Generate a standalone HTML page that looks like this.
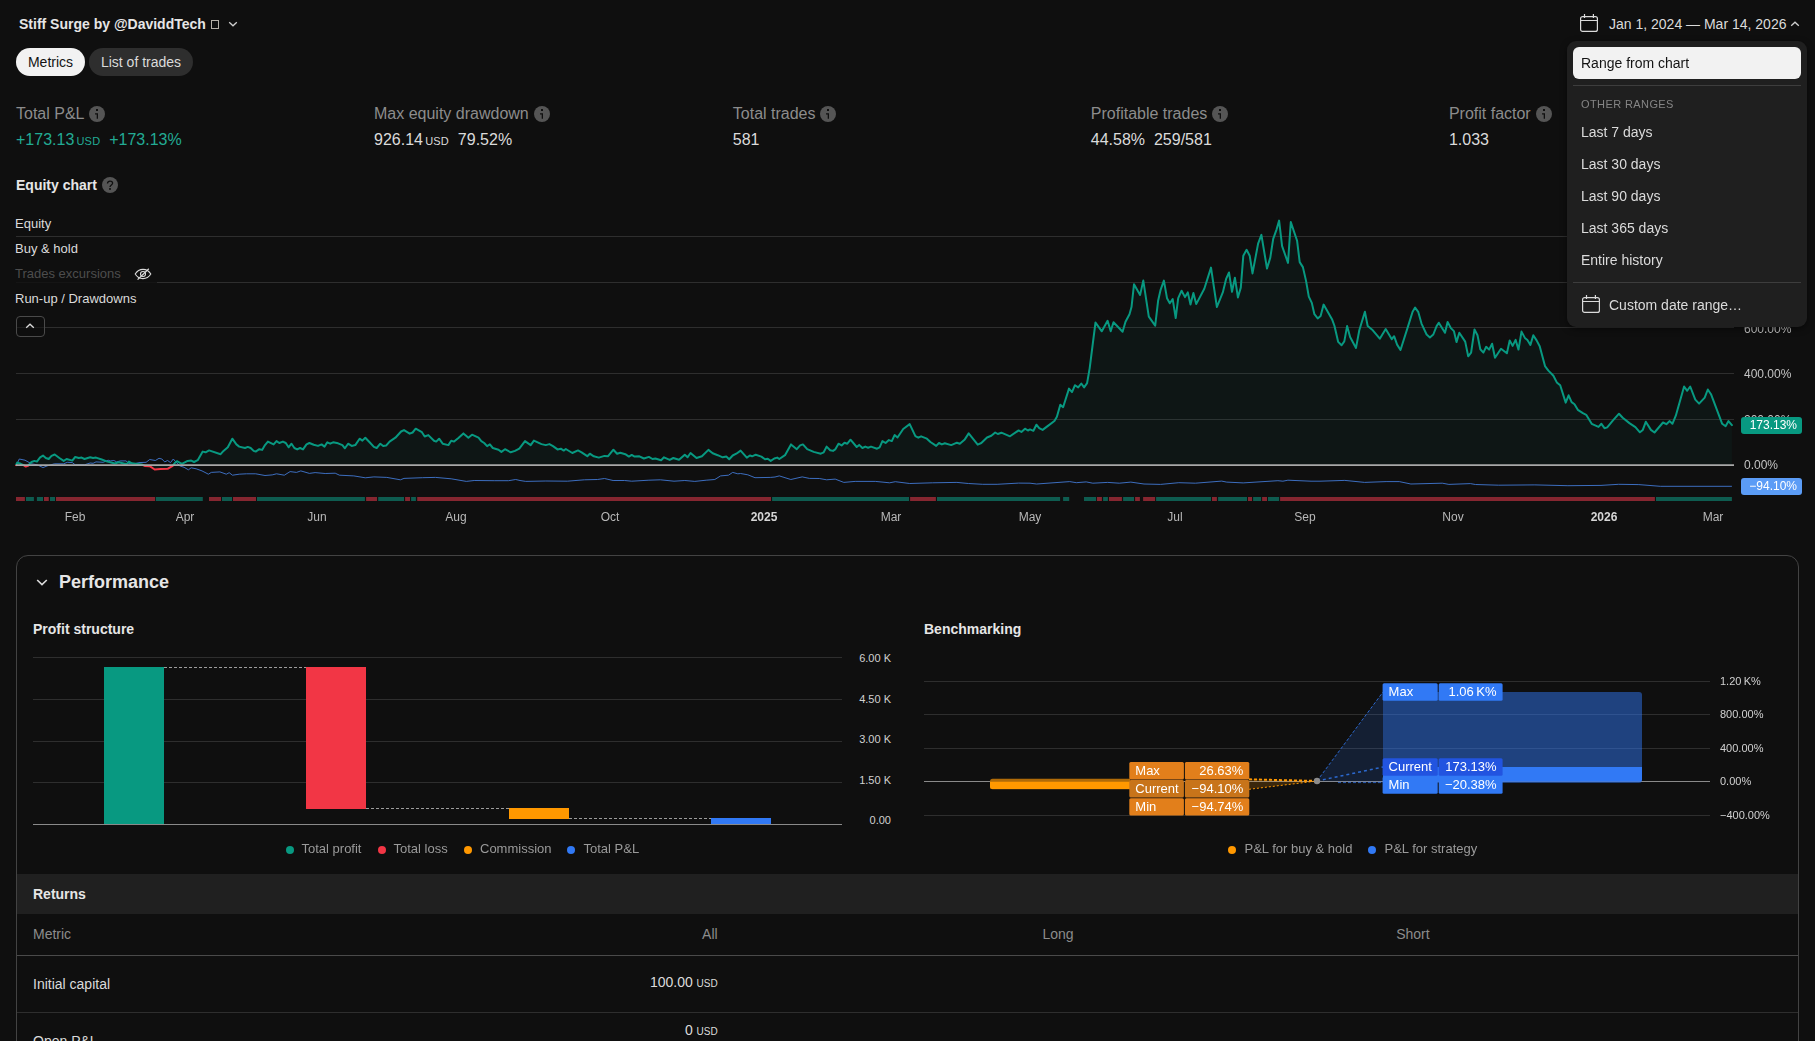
<!DOCTYPE html>
<html lang="en">
<head>
<meta charset="utf-8">
<title>Strategy report</title>
<style>
*{box-sizing:border-box;margin:0;padding:0}
html,body{width:1815px;height:1041px;overflow:hidden;background:#0f0f0f}
body{font-family:"Liberation Sans",sans-serif;color:#dbdbdb;position:relative;font-size:14px}
.abs{position:absolute;white-space:nowrap}
.title{left:19px;top:16px;font-size:14px;font-weight:700;color:#e6e6e6;line-height:17px}
.tofu{left:211px;top:20px;width:8px;height:9px;border:1px solid #b5b0a8}
.pill{top:48px;height:28px;border-radius:14px;font-size:14px;line-height:28px;text-align:center}
.pill.on{left:16px;width:69px;background:#f2f2f2;color:#131313}
.pill.off{left:89px;width:104px;background:#2e2e2e;color:#dbdbdb}
.mlabel{top:104px;font-size:16px;line-height:19px;color:#8c8c8c}
.mval{top:130px;font-size:16px;line-height:19px;color:#dbdbdb}
.mval small{font-size:11px;letter-spacing:.2px;margin-left:2.2px}
.usd{font-size:10px;margin-left:3.7px}
.green{color:#22ab94}
.info{position:absolute;width:16px;height:16px}
.h14{font-size:14px;font-weight:700;color:#e6e6e6;line-height:17px}
.leg{left:15px;font-size:13px;line-height:16px;color:#dbdbdb}
.xl{will-change:transform;top:510px;font-size:12px;line-height:14px;color:#b8b8b8;transform:translateX(-50%)}
.xl.b{font-weight:700;color:#d6d6d6}
.yl{will-change:transform;left:1744px;font-size:12px;line-height:14px;color:#c4c4c4}
.tag{will-change:transform;left:1741px;width:61px;height:17px;border-radius:3px;font-size:12px;line-height:17px;color:#fff;text-align:right;padding-right:5px}
.dd{left:1567px;top:41px;width:240px;height:286px;background:#1f1f1f;border-radius:9px;box-shadow:0 2px 6px rgba(0,0,0,.5)}
.dd .sel{left:6px;top:6px;width:228px;height:32px;border-radius:6px;background:#f2f2f2;color:#131313;font-size:14px;line-height:32px;padding-left:8px}
.dd .sep{left:6px;width:228px;height:1px;background:#3d3d3d}
.dd .cap{left:14px;top:57px;font-size:11px;line-height:13px;letter-spacing:.4px;color:#858585}
.dd .it{left:14px;font-size:14px;line-height:17px;color:#dbdbdb}
.panel{left:16px;top:555px;width:1783px;height:520px;border:1px solid #434343;border-radius:12px}
.lg{font-size:13px;line-height:16px;color:#9a9a9a}
.dot{position:absolute;width:8px;height:8px;border-radius:50%}
.ret{left:17px;top:874px;width:1781px;height:40px;background:#202020}
.th{top:926px;font-size:14px;line-height:17px;color:#8c8c8c}
.hr{left:17px;width:1781px;height:1px}
.td{font-size:14px;line-height:17px;color:#dbdbdb}
</style>
</head>
<body>

<div class="abs title">Stiff Surge by @DaviddTech</div>
<div class="abs tofu"></div>
<svg class="abs" style="left:228px;top:20px" width="10" height="8" viewBox="0 0 10 8"><path d="M1.2 2.2 L5 5.8 L8.8 2.2" fill="none" stroke="#cfcfcf" stroke-width="1.3"/></svg>
<div class="abs pill on">Metrics</div>
<div class="abs pill off">List of trades</div>

<div class="abs mlabel" style="left:16px">Total P&amp;L</div>
<div class="abs mval green" style="left:16px">+173.13<small>USD</small>&nbsp; +173.13%</div>
<div class="abs mlabel" style="left:374px">Max equity drawdown</div>
<div class="abs mval" style="left:374px">926.14<small>USD</small>&nbsp; 79.52%</div>
<div class="abs mlabel" style="left:732.8px">Total trades</div>
<div class="abs mval" style="left:732.8px">581</div>
<div class="abs mlabel" style="left:1090.8px">Profitable trades</div>
<div class="abs mval" style="left:1090.8px">44.58%&nbsp; 259/581</div>
<div class="abs mlabel" style="left:1448.9px">Profit factor</div>
<div class="abs mval" style="left:1448.9px">1.033</div>

<div class="abs h14" style="left:16px;top:177px">Equity chart</div>

<svg class="info" style="left:89px;top:106px" viewBox="0 0 16 16"><circle cx="8" cy="8" r="8" fill="#555"/><rect x="7" y="3" width="2" height="2" rx=".3" fill="#0f0f0f"/><path d="M6 7.200H9V12.800H7.700V8.400H6Z" fill="#0f0f0f"/></svg>
<svg class="info" style="left:534px;top:106px" viewBox="0 0 16 16"><circle cx="8" cy="8" r="8" fill="#555"/><rect x="7" y="3" width="2" height="2" rx=".3" fill="#0f0f0f"/><path d="M6 7.200H9V12.800H7.700V8.400H6Z" fill="#0f0f0f"/></svg>
<svg class="info" style="left:820px;top:106px" viewBox="0 0 16 16"><circle cx="8" cy="8" r="8" fill="#555"/><rect x="7" y="3" width="2" height="2" rx=".3" fill="#0f0f0f"/><path d="M6 7.200H9V12.800H7.700V8.400H6Z" fill="#0f0f0f"/></svg>
<svg class="info" style="left:1212px;top:106px" viewBox="0 0 16 16"><circle cx="8" cy="8" r="8" fill="#555"/><rect x="7" y="3" width="2" height="2" rx=".3" fill="#0f0f0f"/><path d="M6 7.200H9V12.800H7.700V8.400H6Z" fill="#0f0f0f"/></svg>
<svg class="info" style="left:1536px;top:106px" viewBox="0 0 16 16"><circle cx="8" cy="8" r="8" fill="#555"/><rect x="7" y="3" width="2" height="2" rx=".3" fill="#0f0f0f"/><path d="M6 7.200H9V12.800H7.700V8.400H6Z" fill="#0f0f0f"/></svg>
<svg class="info" style="left:102px;top:177px" viewBox="0 0 16 16"><circle cx="8" cy="8" r="8" fill="#555"/><path d="M5.500 6.400C5.500 5 6.600 4.200 8 4.200S10.600 5 10.600 6.300C10.600 7.900 8 8.100 8 10" fill="none" stroke="#0f0f0f" stroke-width="1.300"/><rect x="7.100" y="11.100" width="1.800" height="1.700" fill="#0f0f0f"/></svg>
<svg class="abs" style="left:0;top:200px" width="1815" height="320" viewBox="0 200 1815 320">
<line x1="16" x2="1734" y1="236.5" y2="236.5" stroke="#2e2e2e" stroke-width="1"/>
<line x1="16" x2="1734" y1="282.5" y2="282.5" stroke="#2e2e2e" stroke-width="1"/>
<line x1="16" x2="1734" y1="327.5" y2="327.5" stroke="#2e2e2e" stroke-width="1"/>
<line x1="16" x2="1734" y1="373.5" y2="373.5" stroke="#2e2e2e" stroke-width="1"/>
<line x1="16" x2="1734" y1="419.5" y2="419.5" stroke="#2e2e2e" stroke-width="1"/>
<path d="M16,465.0 L16.0,465.2 L17.2,462.6 L20.7,463.8 L23.6,465.2 L25.8,466.6 L28.3,465.5 L31.5,462.0 L34.4,460.9 L36.9,461.6 L40.1,457.3 L43.0,455.6 L45.8,458.0 L48.7,459.0 L51.5,455.9 L54.7,454.5 L59.4,458.0 L63.7,460.9 L66.6,459.0 L72.3,460.6 L75.2,457.0 L78.8,458.0 L81.6,457.6 L84.5,459.0 L90.2,457.3 L93.1,458.0 L96.0,457.6 L101.7,459.5 L107.4,461.6 L110.3,462.3 L114.6,463.5 L118.9,462.3 L124.6,463.8 L127.5,463.5 L128.9,461.6 L131.8,463.3 L136.0,463.8 L141.8,464.5 L144.7,465.9 L149.7,466.2 L154.7,469.5 L160.4,469.1 L167.6,468.8 L172.6,465.9 L174.8,463.0 L176.9,461.2 L181.9,463.8 L187.6,460.9 L191.2,460.6 L194.1,462.0 L197.7,460.2 L202.7,451.6 L205.6,452.3 L209.1,450.4 L220.6,454.2 L223.5,450.9 L227.8,447.3 L232.3,438.7 L236.4,444.4 L239.2,446.6 L245.0,448.0 L247.8,446.9 L250.7,448.0 L253.6,450.9 L255.7,451.6 L259.3,449.2 L262.1,449.9 L265.0,445.1 L267.9,441.6 L273.6,444.4 L276.5,441.1 L279.3,443.0 L282.9,441.6 L285.8,443.0 L288.6,447.3 L291.5,443.7 L294.4,448.0 L297.2,449.4 L300.1,448.0 L303.0,449.4 L306.5,444.4 L309.4,443.0 L313.7,444.7 L318.0,445.9 L321.6,444.4 L324.5,446.6 L327.3,442.3 L330.2,443.7 L333.1,442.3 L338.1,443.3 L342.4,445.1 L344.9,448.3 L348.1,443.7 L351.7,445.9 L355.3,445.1 L359.6,438.7 L362.4,440.6 L365.3,437.7 L369.6,442.3 L373.9,446.9 L376.7,448.0 L380.3,443.7 L383.2,446.1 L386.1,445.6 L389.6,441.6 L395.4,437.7 L401.1,431.5 L404.0,430.1 L409.7,433.7 L412.6,432.5 L415.7,428.7 L421.9,432.2 L424.7,436.5 L428.3,435.1 L434.0,440.8 L436.2,441.6 L439.1,438.7 L442.7,443.7 L448.4,445.1 L451.2,440.8 L454.1,441.6 L458.4,438.0 L463.4,433.4 L468.4,437.7 L472.0,434.7 L478.5,437.7 L481.3,441.1 L484.2,443.0 L487.1,446.1 L489.9,444.4 L492.8,448.0 L498.5,449.7 L501.4,451.9 L505.0,449.2 L510.7,452.3 L515.0,450.9 L519.3,448.7 L525.0,441.1 L530.7,445.1 L533.9,440.6 L541.5,444.1 L545.8,445.1 L549.4,444.1 L553.0,446.1 L557.5,449.4 L560.8,448.7 L563.7,450.6 L565.8,449.0 L572.3,453.0 L578.0,450.4 L581.6,452.3 L587.3,456.2 L589.8,453.7 L593.8,456.3 L598.8,457.6 L604.5,455.9 L608.1,456.2 L613.4,449.7 L617.1,453.7 L620.3,452.7 L625.3,454.2 L628.9,456.6 L631.7,454.9 L634.6,456.6 L638.9,456.2 L643.9,458.5 L648.9,456.9 L652.5,459.0 L655.4,458.5 L661.1,460.2 L664.0,457.3 L669.7,459.9 L673.3,458.0 L679.0,459.8 L684.8,454.7 L687.6,457.3 L690.5,453.0 L696.5,458.0 L701.9,456.2 L708.4,449.9 L712.7,453.3 L717.7,455.2 L722.7,457.3 L726.3,456.6 L729.2,459.2 L732.7,455.5 L736.3,453.7 L740.6,450.6 L746.8,457.6 L749.9,455.5 L752.1,456.3 L755.7,454.7 L761.4,456.6 L765.0,459.2 L767.8,458.8 L770.7,460.9 L774.3,458.5 L777.2,457.6 L779.3,459.0 L785.0,455.2 L791.0,444.4 L796.8,449.2 L800.1,445.4 L802.9,444.4 L807.2,449.2 L813.7,451.9 L820.8,453.7 L823.7,452.3 L826.6,446.6 L830.2,450.2 L833.0,450.9 L835.2,449.4 L838.5,443.7 L841.6,445.4 L844.5,442.7 L847.3,443.7 L850.5,439.7 L856.7,447.0 L859.2,444.9 L862.4,448.0 L865.3,446.6 L868.1,447.7 L871.0,446.6 L877.0,448.7 L879.6,447.3 L882.4,441.1 L885.6,443.0 L888.9,440.1 L891.8,441.1 L894.6,435.1 L897.5,437.5 L903.2,429.0 L909.7,424.1 L915.4,436.1 L918.3,437.7 L921.1,436.3 L926.9,438.7 L930.4,442.0 L936.2,445.9 L939.0,443.0 L941.9,444.4 L944.8,443.3 L951.2,445.1 L956.9,442.7 L959.8,443.7 L964.8,439.4 L968.7,433.4 L977.7,444.7 L981.3,443.0 L987.0,437.5 L991.3,435.8 L995.2,432.5 L997.8,434.0 L1001.4,432.7 L1010.0,436.3 L1018.6,430.4 L1021.4,432.0 L1025.0,428.7 L1027.9,430.5 L1030.0,429.4 L1033.4,430.8 L1036.4,424.7 L1039.2,428.2 L1042.6,429.9 L1047.6,426.1 L1054.4,421.0 L1056.9,416.8 L1060.3,404.7 L1063.1,407.2 L1069.0,388.6 L1072.0,392.1 L1075.0,385.2 L1078.2,387.4 L1081.3,383.5 L1084.1,387.4 L1087.1,383.2 L1089.7,368.1 L1093.0,342.0 L1095.5,322.5 L1101.8,331.3 L1107.6,320.8 L1110.7,331.3 L1113.5,322.3 L1122.6,331.8 L1125.5,321.8 L1129.5,314.2 L1131.5,307.1 L1134.0,284.3 L1140.1,294.9 L1143.3,280.6 L1148.8,316.7 L1155.2,325.6 L1158.1,300.8 L1160.6,289.8 L1163.9,280.6 L1167.0,298.2 L1169.8,303.3 L1172.7,299.1 L1175.7,318.1 L1178.2,298.2 L1181.6,290.7 L1185.0,297.1 L1187.8,292.4 L1190.5,304.5 L1193.4,292.9 L1196.2,304.1 L1204.3,288.7 L1211.0,267.6 L1216.9,307.0 L1222.8,292.4 L1226.1,278.9 L1229.0,272.5 L1232.0,291.8 L1234.9,277.7 L1237.9,297.4 L1240.8,287.6 L1243.3,255.7 L1246.6,249.8 L1249.7,255.7 L1252.5,273.4 L1258.1,243.6 L1261.4,234.9 L1267.0,268.5 L1270.3,257.6 L1273.2,238.9 L1276.6,229.3 L1279.1,220.6 L1282.1,246.1 L1288.0,262.9 L1290.8,222.1 L1297.1,240.8 L1299.7,262.1 L1302.9,267.1 L1306.0,280.6 L1308.8,296.6 L1311.8,302.9 L1314.4,314.2 L1317.7,318.4 L1320.6,315.9 L1323.6,304.6 L1332.0,319.2 L1334.5,326.0 L1338.2,341.9 L1341.6,345.3 L1344.3,341.4 L1347.1,326.1 L1350.1,337.0 L1356.0,347.9 L1359.3,330.3 L1364.9,311.8 L1367.7,326.1 L1372.8,330.3 L1379.8,338.7 L1385.7,329.1 L1391.8,339.2 L1394.1,336.2 L1397.1,344.6 L1400.5,350.0 L1408.1,326.1 L1412.6,311.8 L1415.1,307.6 L1418.2,311.8 L1421.5,323.6 L1426.6,334.5 L1429.9,337.4 L1433.3,334.5 L1436.6,326.1 L1438.8,322.7 L1445.0,332.8 L1447.6,321.9 L1450.9,328.1 L1453.9,331.1 L1456.5,342.1 L1459.3,332.8 L1465.2,341.6 L1468.2,356.3 L1471.1,352.6 L1474.5,329.5 L1477.5,335.3 L1480.3,349.3 L1483.4,352.6 L1486.2,346.8 L1489.1,349.6 L1492.1,343.7 L1495.0,357.7 L1501.0,348.8 L1506.9,353.3 L1509.7,340.4 L1512.6,345.9 L1515.6,339.9 L1518.5,349.6 L1521.5,331.6 L1524.9,337.9 L1527.4,340.0 L1530.4,344.9 L1533.3,335.3 L1536.6,340.4 L1539.7,346.3 L1545.0,366.1 L1548.4,370.6 L1553.4,375.7 L1556.8,382.4 L1560.2,385.3 L1565.7,402.6 L1568.6,395.3 L1571.6,402.1 L1574.5,404.2 L1577.8,409.8 L1582.9,413.2 L1586.2,414.8 L1591.7,423.8 L1598.5,426.9 L1601.4,423.8 L1604.5,428.2 L1607.2,427.4 L1613.2,420.2 L1619.0,413.7 L1622.7,417.7 L1629.4,423.1 L1635.4,427.2 L1639.9,432.3 L1642.8,429.9 L1645.8,421.8 L1650.9,429.9 L1654.5,432.5 L1663.0,422.5 L1666.4,424.2 L1669.7,421.1 L1672.4,423.8 L1675.8,415.7 L1684.1,386.5 L1687.2,390.8 L1690.2,386.5 L1695.3,399.6 L1699.1,403.6 L1704.7,397.6 L1707.8,389.5 L1711.0,394.2 L1722.2,423.8 L1725.6,426.2 L1728.5,421.1 L1731.9,425.1 L1731.9,465.0 Z" fill="#089981" fill-opacity="0.056"/>
<polyline points="16.0,465.9 19.3,459.0 25.0,460.2 31.5,463.8 37.2,464.8 43.0,467.6 47.2,465.9 54.4,463.8 63.7,463.8 67.3,462.3 72.3,462.6 75.2,464.8 84.5,464.8 90.2,463.0 93.1,463.3 96.0,461.9 103.1,462.3 108.1,460.2 110.3,460.9 113.9,460.5 116.7,461.9 120.3,460.9 126.0,460.9 128.9,463.5 134.6,463.8 138.9,462.6 146.1,462.3 149.7,459.5 155.4,460.5 159.0,458.3 161.9,459.0 164.7,461.9 167.6,460.5 170.5,462.6 173.3,459.0 176.2,462.3 179.8,465.9 184.1,467.3 188.4,469.8 191.2,467.8 196.2,468.8 202.0,470.9 208.4,474.2 211.3,472.4 219.9,471.9 226.3,474.2 229.2,472.7 232.5,475.2 239.2,474.2 246.4,473.8 255.7,473.8 265.0,475.5 272.2,474.9 276.5,473.8 284.3,475.2 290.1,471.6 296.5,472.4 300.8,470.9 309.4,473.4 315.1,472.6 325.2,473.5 335.2,473.2 339.5,475.2 353.8,475.9 365.3,477.8 373.9,476.9 386.8,477.4 400.4,479.8 404.0,478.4 422.6,477.7 435.5,477.4 451.2,478.8 466.3,481.4 474.2,480.5 494.2,480.7 508.6,480.7 515.7,479.5 520.0,480.5 525.7,481.4 545.8,481.0 567.3,481.2 584.5,479.8 597.4,479.5 604.5,478.5 613.1,480.5 624.6,480.5 631.7,481.2 648.9,480.2 660.4,479.8 674.0,481.2 684.8,480.5 694.8,481.4 706.2,480.2 714.8,479.5 720.6,475.9 728.5,475.2 732.7,472.4 737.8,473.8 740.6,473.5 747.8,474.8 755.0,477.7 770.7,477.4 775.0,477.0 779.3,475.9 790.8,479.5 802.2,476.9 809.4,478.4 819.4,478.5 826.6,479.8 835.2,479.1 843.8,482.4 855.2,481.4 875.3,481.4 889.6,482.8 895.3,481.7 909.7,483.5 932.6,482.8 956.9,482.4 968.4,483.5 982.7,484.3 997.1,484.3 1018.6,483.1 1030.0,483.2 1036.6,484.0 1069.7,481.6 1076.3,482.7 1086.2,481.9 1092.8,483.2 1107.7,482.4 1119.3,483.2 1130.8,482.1 1144.0,484.0 1160.6,484.4 1178.8,482.7 1195.3,483.2 1221.7,481.1 1226.7,482.1 1243.2,482.9 1277.9,480.7 1282.9,481.2 1287.9,480.2 1311.0,481.2 1320.0,481.2 1344.8,480.4 1364.6,482.4 1386.1,481.6 1399.3,481.6 1410.9,484.0 1442.3,483.2 1448.9,484.4 1470.4,483.6 1475.4,484.5 1498.5,485.2 1534.9,484.9 1567.9,485.7 1601.0,485.4 1618.6,484.3 1638.8,484.6 1660.3,486.3 1731.9,486.3" fill="none" stroke="#4178d2" stroke-width="1" stroke-opacity="0.9" stroke-linejoin="round"/>
<defs><clipPath id="up"><rect x="0" y="200" width="1815" height="265.0"/></clipPath><clipPath id="dn"><rect x="0" y="465.0" width="1815" height="60"/></clipPath></defs>
<polyline points="16.0,465.2 17.2,462.6 20.7,463.8 23.6,465.2 25.8,466.6 28.3,465.5 31.5,462.0 34.4,460.9 36.9,461.6 40.1,457.3 43.0,455.6 45.8,458.0 48.7,459.0 51.5,455.9 54.7,454.5 59.4,458.0 63.7,460.9 66.6,459.0 72.3,460.6 75.2,457.0 78.8,458.0 81.6,457.6 84.5,459.0 90.2,457.3 93.1,458.0 96.0,457.6 101.7,459.5 107.4,461.6 110.3,462.3 114.6,463.5 118.9,462.3 124.6,463.8 127.5,463.5 128.9,461.6 131.8,463.3 136.0,463.8 141.8,464.5 144.7,465.9 149.7,466.2 154.7,469.5 160.4,469.1 167.6,468.8 172.6,465.9 174.8,463.0 176.9,461.2 181.9,463.8 187.6,460.9 191.2,460.6 194.1,462.0 197.7,460.2 202.7,451.6 205.6,452.3 209.1,450.4 220.6,454.2 223.5,450.9 227.8,447.3 232.3,438.7 236.4,444.4 239.2,446.6 245.0,448.0 247.8,446.9 250.7,448.0 253.6,450.9 255.7,451.6 259.3,449.2 262.1,449.9 265.0,445.1 267.9,441.6 273.6,444.4 276.5,441.1 279.3,443.0 282.9,441.6 285.8,443.0 288.6,447.3 291.5,443.7 294.4,448.0 297.2,449.4 300.1,448.0 303.0,449.4 306.5,444.4 309.4,443.0 313.7,444.7 318.0,445.9 321.6,444.4 324.5,446.6 327.3,442.3 330.2,443.7 333.1,442.3 338.1,443.3 342.4,445.1 344.9,448.3 348.1,443.7 351.7,445.9 355.3,445.1 359.6,438.7 362.4,440.6 365.3,437.7 369.6,442.3 373.9,446.9 376.7,448.0 380.3,443.7 383.2,446.1 386.1,445.6 389.6,441.6 395.4,437.7 401.1,431.5 404.0,430.1 409.7,433.7 412.6,432.5 415.7,428.7 421.9,432.2 424.7,436.5 428.3,435.1 434.0,440.8 436.2,441.6 439.1,438.7 442.7,443.7 448.4,445.1 451.2,440.8 454.1,441.6 458.4,438.0 463.4,433.4 468.4,437.7 472.0,434.7 478.5,437.7 481.3,441.1 484.2,443.0 487.1,446.1 489.9,444.4 492.8,448.0 498.5,449.7 501.4,451.9 505.0,449.2 510.7,452.3 515.0,450.9 519.3,448.7 525.0,441.1 530.7,445.1 533.9,440.6 541.5,444.1 545.8,445.1 549.4,444.1 553.0,446.1 557.5,449.4 560.8,448.7 563.7,450.6 565.8,449.0 572.3,453.0 578.0,450.4 581.6,452.3 587.3,456.2 589.8,453.7 593.8,456.3 598.8,457.6 604.5,455.9 608.1,456.2 613.4,449.7 617.1,453.7 620.3,452.7 625.3,454.2 628.9,456.6 631.7,454.9 634.6,456.6 638.9,456.2 643.9,458.5 648.9,456.9 652.5,459.0 655.4,458.5 661.1,460.2 664.0,457.3 669.7,459.9 673.3,458.0 679.0,459.8 684.8,454.7 687.6,457.3 690.5,453.0 696.5,458.0 701.9,456.2 708.4,449.9 712.7,453.3 717.7,455.2 722.7,457.3 726.3,456.6 729.2,459.2 732.7,455.5 736.3,453.7 740.6,450.6 746.8,457.6 749.9,455.5 752.1,456.3 755.7,454.7 761.4,456.6 765.0,459.2 767.8,458.8 770.7,460.9 774.3,458.5 777.2,457.6 779.3,459.0 785.0,455.2 791.0,444.4 796.8,449.2 800.1,445.4 802.9,444.4 807.2,449.2 813.7,451.9 820.8,453.7 823.7,452.3 826.6,446.6 830.2,450.2 833.0,450.9 835.2,449.4 838.5,443.7 841.6,445.4 844.5,442.7 847.3,443.7 850.5,439.7 856.7,447.0 859.2,444.9 862.4,448.0 865.3,446.6 868.1,447.7 871.0,446.6 877.0,448.7 879.6,447.3 882.4,441.1 885.6,443.0 888.9,440.1 891.8,441.1 894.6,435.1 897.5,437.5 903.2,429.0 909.7,424.1 915.4,436.1 918.3,437.7 921.1,436.3 926.9,438.7 930.4,442.0 936.2,445.9 939.0,443.0 941.9,444.4 944.8,443.3 951.2,445.1 956.9,442.7 959.8,443.7 964.8,439.4 968.7,433.4 977.7,444.7 981.3,443.0 987.0,437.5 991.3,435.8 995.2,432.5 997.8,434.0 1001.4,432.7 1010.0,436.3 1018.6,430.4 1021.4,432.0 1025.0,428.7 1027.9,430.5 1030.0,429.4 1033.4,430.8 1036.4,424.7 1039.2,428.2 1042.6,429.9 1047.6,426.1 1054.4,421.0 1056.9,416.8 1060.3,404.7 1063.1,407.2 1069.0,388.6 1072.0,392.1 1075.0,385.2 1078.2,387.4 1081.3,383.5 1084.1,387.4 1087.1,383.2 1089.7,368.1 1093.0,342.0 1095.5,322.5 1101.8,331.3 1107.6,320.8 1110.7,331.3 1113.5,322.3 1122.6,331.8 1125.5,321.8 1129.5,314.2 1131.5,307.1 1134.0,284.3 1140.1,294.9 1143.3,280.6 1148.8,316.7 1155.2,325.6 1158.1,300.8 1160.6,289.8 1163.9,280.6 1167.0,298.2 1169.8,303.3 1172.7,299.1 1175.7,318.1 1178.2,298.2 1181.6,290.7 1185.0,297.1 1187.8,292.4 1190.5,304.5 1193.4,292.9 1196.2,304.1 1204.3,288.7 1211.0,267.6 1216.9,307.0 1222.8,292.4 1226.1,278.9 1229.0,272.5 1232.0,291.8 1234.9,277.7 1237.9,297.4 1240.8,287.6 1243.3,255.7 1246.6,249.8 1249.7,255.7 1252.5,273.4 1258.1,243.6 1261.4,234.9 1267.0,268.5 1270.3,257.6 1273.2,238.9 1276.6,229.3 1279.1,220.6 1282.1,246.1 1288.0,262.9 1290.8,222.1 1297.1,240.8 1299.7,262.1 1302.9,267.1 1306.0,280.6 1308.8,296.6 1311.8,302.9 1314.4,314.2 1317.7,318.4 1320.6,315.9 1323.6,304.6 1332.0,319.2 1334.5,326.0 1338.2,341.9 1341.6,345.3 1344.3,341.4 1347.1,326.1 1350.1,337.0 1356.0,347.9 1359.3,330.3 1364.9,311.8 1367.7,326.1 1372.8,330.3 1379.8,338.7 1385.7,329.1 1391.8,339.2 1394.1,336.2 1397.1,344.6 1400.5,350.0 1408.1,326.1 1412.6,311.8 1415.1,307.6 1418.2,311.8 1421.5,323.6 1426.6,334.5 1429.9,337.4 1433.3,334.5 1436.6,326.1 1438.8,322.7 1445.0,332.8 1447.6,321.9 1450.9,328.1 1453.9,331.1 1456.5,342.1 1459.3,332.8 1465.2,341.6 1468.2,356.3 1471.1,352.6 1474.5,329.5 1477.5,335.3 1480.3,349.3 1483.4,352.6 1486.2,346.8 1489.1,349.6 1492.1,343.7 1495.0,357.7 1501.0,348.8 1506.9,353.3 1509.7,340.4 1512.6,345.9 1515.6,339.9 1518.5,349.6 1521.5,331.6 1524.9,337.9 1527.4,340.0 1530.4,344.9 1533.3,335.3 1536.6,340.4 1539.7,346.3 1545.0,366.1 1548.4,370.6 1553.4,375.7 1556.8,382.4 1560.2,385.3 1565.7,402.6 1568.6,395.3 1571.6,402.1 1574.5,404.2 1577.8,409.8 1582.9,413.2 1586.2,414.8 1591.7,423.8 1598.5,426.9 1601.4,423.8 1604.5,428.2 1607.2,427.4 1613.2,420.2 1619.0,413.7 1622.7,417.7 1629.4,423.1 1635.4,427.2 1639.9,432.3 1642.8,429.9 1645.8,421.8 1650.9,429.9 1654.5,432.5 1663.0,422.5 1666.4,424.2 1669.7,421.1 1672.4,423.8 1675.8,415.7 1684.1,386.5 1687.2,390.8 1690.2,386.5 1695.3,399.6 1699.1,403.6 1704.7,397.6 1707.8,389.5 1711.0,394.2 1722.2,423.8 1725.6,426.2 1728.5,421.1 1731.9,425.1" fill="none" stroke="#089981" stroke-width="2" stroke-linejoin="round" stroke-linecap="round" clip-path="url(#up)"/>
<polyline points="16.0,465.2 17.2,462.6 20.7,463.8 23.6,465.2 25.8,466.6 28.3,465.5 31.5,462.0 34.4,460.9 36.9,461.6 40.1,457.3 43.0,455.6 45.8,458.0 48.7,459.0 51.5,455.9 54.7,454.5 59.4,458.0 63.7,460.9 66.6,459.0 72.3,460.6 75.2,457.0 78.8,458.0 81.6,457.6 84.5,459.0 90.2,457.3 93.1,458.0 96.0,457.6 101.7,459.5 107.4,461.6 110.3,462.3 114.6,463.5 118.9,462.3 124.6,463.8 127.5,463.5 128.9,461.6 131.8,463.3 136.0,463.8 141.8,464.5 144.7,465.9 149.7,466.2 154.7,469.5 160.4,469.1 167.6,468.8 172.6,465.9 174.8,463.0 176.9,461.2 181.9,463.8 187.6,460.9 191.2,460.6 194.1,462.0 197.7,460.2 202.7,451.6 205.6,452.3 209.1,450.4 220.6,454.2 223.5,450.9 227.8,447.3 232.3,438.7 236.4,444.4 239.2,446.6 245.0,448.0 247.8,446.9 250.7,448.0 253.6,450.9 255.7,451.6 259.3,449.2 262.1,449.9 265.0,445.1 267.9,441.6 273.6,444.4 276.5,441.1 279.3,443.0 282.9,441.6 285.8,443.0 288.6,447.3 291.5,443.7 294.4,448.0 297.2,449.4 300.1,448.0 303.0,449.4 306.5,444.4 309.4,443.0 313.7,444.7 318.0,445.9 321.6,444.4 324.5,446.6 327.3,442.3 330.2,443.7 333.1,442.3 338.1,443.3 342.4,445.1 344.9,448.3 348.1,443.7 351.7,445.9 355.3,445.1 359.6,438.7 362.4,440.6 365.3,437.7 369.6,442.3 373.9,446.9 376.7,448.0 380.3,443.7 383.2,446.1 386.1,445.6 389.6,441.6 395.4,437.7 401.1,431.5 404.0,430.1 409.7,433.7 412.6,432.5 415.7,428.7 421.9,432.2 424.7,436.5 428.3,435.1 434.0,440.8 436.2,441.6 439.1,438.7 442.7,443.7 448.4,445.1 451.2,440.8 454.1,441.6 458.4,438.0 463.4,433.4 468.4,437.7 472.0,434.7 478.5,437.7 481.3,441.1 484.2,443.0 487.1,446.1 489.9,444.4 492.8,448.0 498.5,449.7 501.4,451.9 505.0,449.2 510.7,452.3 515.0,450.9 519.3,448.7 525.0,441.1 530.7,445.1 533.9,440.6 541.5,444.1 545.8,445.1 549.4,444.1 553.0,446.1 557.5,449.4 560.8,448.7 563.7,450.6 565.8,449.0 572.3,453.0 578.0,450.4 581.6,452.3 587.3,456.2 589.8,453.7 593.8,456.3 598.8,457.6 604.5,455.9 608.1,456.2 613.4,449.7 617.1,453.7 620.3,452.7 625.3,454.2 628.9,456.6 631.7,454.9 634.6,456.6 638.9,456.2 643.9,458.5 648.9,456.9 652.5,459.0 655.4,458.5 661.1,460.2 664.0,457.3 669.7,459.9 673.3,458.0 679.0,459.8 684.8,454.7 687.6,457.3 690.5,453.0 696.5,458.0 701.9,456.2 708.4,449.9 712.7,453.3 717.7,455.2 722.7,457.3 726.3,456.6 729.2,459.2 732.7,455.5 736.3,453.7 740.6,450.6 746.8,457.6 749.9,455.5 752.1,456.3 755.7,454.7 761.4,456.6 765.0,459.2 767.8,458.8 770.7,460.9 774.3,458.5 777.2,457.6 779.3,459.0 785.0,455.2 791.0,444.4 796.8,449.2 800.1,445.4 802.9,444.4 807.2,449.2 813.7,451.9 820.8,453.7 823.7,452.3 826.6,446.6 830.2,450.2 833.0,450.9 835.2,449.4 838.5,443.7 841.6,445.4 844.5,442.7 847.3,443.7 850.5,439.7 856.7,447.0 859.2,444.9 862.4,448.0 865.3,446.6 868.1,447.7 871.0,446.6 877.0,448.7 879.6,447.3 882.4,441.1 885.6,443.0 888.9,440.1 891.8,441.1 894.6,435.1 897.5,437.5 903.2,429.0 909.7,424.1 915.4,436.1 918.3,437.7 921.1,436.3 926.9,438.7 930.4,442.0 936.2,445.9 939.0,443.0 941.9,444.4 944.8,443.3 951.2,445.1 956.9,442.7 959.8,443.7 964.8,439.4 968.7,433.4 977.7,444.7 981.3,443.0 987.0,437.5 991.3,435.8 995.2,432.5 997.8,434.0 1001.4,432.7 1010.0,436.3 1018.6,430.4 1021.4,432.0 1025.0,428.7 1027.9,430.5 1030.0,429.4 1033.4,430.8 1036.4,424.7 1039.2,428.2 1042.6,429.9 1047.6,426.1 1054.4,421.0 1056.9,416.8 1060.3,404.7 1063.1,407.2 1069.0,388.6 1072.0,392.1 1075.0,385.2 1078.2,387.4 1081.3,383.5 1084.1,387.4 1087.1,383.2 1089.7,368.1 1093.0,342.0 1095.5,322.5 1101.8,331.3 1107.6,320.8 1110.7,331.3 1113.5,322.3 1122.6,331.8 1125.5,321.8 1129.5,314.2 1131.5,307.1 1134.0,284.3 1140.1,294.9 1143.3,280.6 1148.8,316.7 1155.2,325.6 1158.1,300.8 1160.6,289.8 1163.9,280.6 1167.0,298.2 1169.8,303.3 1172.7,299.1 1175.7,318.1 1178.2,298.2 1181.6,290.7 1185.0,297.1 1187.8,292.4 1190.5,304.5 1193.4,292.9 1196.2,304.1 1204.3,288.7 1211.0,267.6 1216.9,307.0 1222.8,292.4 1226.1,278.9 1229.0,272.5 1232.0,291.8 1234.9,277.7 1237.9,297.4 1240.8,287.6 1243.3,255.7 1246.6,249.8 1249.7,255.7 1252.5,273.4 1258.1,243.6 1261.4,234.9 1267.0,268.5 1270.3,257.6 1273.2,238.9 1276.6,229.3 1279.1,220.6 1282.1,246.1 1288.0,262.9 1290.8,222.1 1297.1,240.8 1299.7,262.1 1302.9,267.1 1306.0,280.6 1308.8,296.6 1311.8,302.9 1314.4,314.2 1317.7,318.4 1320.6,315.9 1323.6,304.6 1332.0,319.2 1334.5,326.0 1338.2,341.9 1341.6,345.3 1344.3,341.4 1347.1,326.1 1350.1,337.0 1356.0,347.9 1359.3,330.3 1364.9,311.8 1367.7,326.1 1372.8,330.3 1379.8,338.7 1385.7,329.1 1391.8,339.2 1394.1,336.2 1397.1,344.6 1400.5,350.0 1408.1,326.1 1412.6,311.8 1415.1,307.6 1418.2,311.8 1421.5,323.6 1426.6,334.5 1429.9,337.4 1433.3,334.5 1436.6,326.1 1438.8,322.7 1445.0,332.8 1447.6,321.9 1450.9,328.1 1453.9,331.1 1456.5,342.1 1459.3,332.8 1465.2,341.6 1468.2,356.3 1471.1,352.6 1474.5,329.5 1477.5,335.3 1480.3,349.3 1483.4,352.6 1486.2,346.8 1489.1,349.6 1492.1,343.7 1495.0,357.7 1501.0,348.8 1506.9,353.3 1509.7,340.4 1512.6,345.9 1515.6,339.9 1518.5,349.6 1521.5,331.6 1524.9,337.9 1527.4,340.0 1530.4,344.9 1533.3,335.3 1536.6,340.4 1539.7,346.3 1545.0,366.1 1548.4,370.6 1553.4,375.7 1556.8,382.4 1560.2,385.3 1565.7,402.6 1568.6,395.3 1571.6,402.1 1574.5,404.2 1577.8,409.8 1582.9,413.2 1586.2,414.8 1591.7,423.8 1598.5,426.9 1601.4,423.8 1604.5,428.2 1607.2,427.4 1613.2,420.2 1619.0,413.7 1622.7,417.7 1629.4,423.1 1635.4,427.2 1639.9,432.3 1642.8,429.9 1645.8,421.8 1650.9,429.9 1654.5,432.5 1663.0,422.5 1666.4,424.2 1669.7,421.1 1672.4,423.8 1675.8,415.7 1684.1,386.5 1687.2,390.8 1690.2,386.5 1695.3,399.6 1699.1,403.6 1704.7,397.6 1707.8,389.5 1711.0,394.2 1722.2,423.8 1725.6,426.2 1728.5,421.1 1731.9,425.1" fill="none" stroke="#f23645" stroke-width="2" stroke-linejoin="round" stroke-linecap="round" clip-path="url(#dn)"/>
<line x1="16" x2="1734" y1="465.2" y2="465.2" stroke="#a8a8a8" stroke-width="1.8"/>
<rect x="16.0" y="497" width="8.9" height="4" fill="#862630"/>
<rect x="26.0" y="497" width="7.9" height="4" fill="#0e5c50"/>
<rect x="36.9" y="497" width="6.1" height="4" fill="#0e5c50"/>
<rect x="44.0" y="497" width="4.8" height="4" fill="#862630"/>
<rect x="50.0" y="497" width="5.0" height="4" fill="#0e5c50"/>
<rect x="56.0" y="497" width="99.0" height="4" fill="#862630"/>
<rect x="155.8" y="497" width="47.0" height="4" fill="#0e5c50"/>
<rect x="209.0" y="497" width="12.0" height="4" fill="#862630"/>
<rect x="222.0" y="497" width="10.0" height="4" fill="#0e5c50"/>
<rect x="233.0" y="497" width="23.0" height="4" fill="#862630"/>
<rect x="257.0" y="497" width="107.9" height="4" fill="#0e5c50"/>
<rect x="366.1" y="497" width="10.9" height="4" fill="#862630"/>
<rect x="378.2" y="497" width="25.8" height="4" fill="#0e5c50"/>
<rect x="405.1" y="497" width="4.9" height="4" fill="#862630"/>
<rect x="411.1" y="497" width="4.8" height="4" fill="#0e5c50"/>
<rect x="417.2" y="497" width="353.8" height="4" fill="#862630"/>
<rect x="772.1" y="497" width="136.9" height="4" fill="#0e5c50"/>
<rect x="910.1" y="497" width="25.8" height="4" fill="#862630"/>
<rect x="937.0" y="497" width="123.1" height="4" fill="#0e5c50"/>
<rect x="1063.1" y="497" width="6.1" height="4" fill="#0e5c50"/>
<rect x="1084.0" y="497" width="12.0" height="4" fill="#0e5c50"/>
<rect x="1096.9" y="497" width="5.0" height="4" fill="#862630"/>
<rect x="1103.1" y="497" width="4.8" height="4" fill="#0e5c50"/>
<rect x="1109.0" y="497" width="12.9" height="4" fill="#862630"/>
<rect x="1123.1" y="497" width="10.9" height="4" fill="#0e5c50"/>
<rect x="1135.1" y="497" width="4.8" height="4" fill="#862630"/>
<rect x="1143.1" y="497" width="12.0" height="4" fill="#862630"/>
<rect x="1156.1" y="497" width="54.9" height="4" fill="#0e5c50"/>
<rect x="1212.0" y="497" width="4.9" height="4" fill="#862630"/>
<rect x="1218.1" y="497" width="28.9" height="4" fill="#0e5c50"/>
<rect x="1248.0" y="497" width="4.0" height="4" fill="#862630"/>
<rect x="1253.1" y="497" width="8.0" height="4" fill="#0e5c50"/>
<rect x="1262.1" y="497" width="4.9" height="4" fill="#862630"/>
<rect x="1268.0" y="497" width="11.1" height="4" fill="#0e5c50"/>
<rect x="1280.1" y="497" width="374.8" height="4" fill="#862630"/>
<rect x="1656.0" y="497" width="75.9" height="4" fill="#0e5c50"/>
</svg>
<div class="abs leg" style="top:216px">Equity</div>
<div class="abs leg" style="top:241px">Buy &amp; hold</div>
<div class="abs" style="left:0;top:262px;width:157px;height:24px;background:rgba(15,15,15,.8)"></div>
<div class="abs leg" style="top:266px;color:#4d4d4d">Trades excursions</div>
<svg class="abs" style="left:133px;top:265px" width="20" height="18" viewBox="0 0 20 18" fill="none" stroke="#dbdbdb" stroke-width="1.1"><path d="M2.200 9C4.200 5.800 7 4.400 10 4.400s5.800 1.400 7.800 4.600c-2 3.200-4.800 4.600-7.800 4.600S4.200 12.200 2.200 9z"/><circle cx="10" cy="9" r="2.500"/><path d="M4.600 14.600L15.800 3.700" stroke-width="1.200"/></svg>
<div class="abs leg" style="top:291px">Run-up / Drawdowns</div>
<div class="abs" style="left:16px;top:316px;width:29px;height:21px;border:1px solid #4a4a4a;border-radius:4px;background:rgba(15,15,15,.55)"></div>
<svg class="abs" style="left:24.8px;top:322px" width="10" height="8" viewBox="0 0 10 8"><path d="M1.2 5.8 L5 2.200 L8.800 5.800" fill="none" stroke="#dbdbdb" stroke-width="1.300"/></svg>
<div class="abs xl" style="left:74.8px">Feb</div>
<div class="abs xl" style="left:184.8px">Apr</div>
<div class="abs xl" style="left:316.8px">Jun</div>
<div class="abs xl" style="left:455.8px">Aug</div>
<div class="abs xl" style="left:609.8px">Oct</div>
<div class="abs xl b" style="left:763.8px">2025</div>
<div class="abs xl" style="left:890.8px">Mar</div>
<div class="abs xl" style="left:1029.8px">May</div>
<div class="abs xl" style="left:1174.8px">Jul</div>
<div class="abs xl" style="left:1304.8px">Sep</div>
<div class="abs xl" style="left:1452.8px">Nov</div>
<div class="abs xl b" style="left:1603.8px">2026</div>
<div class="abs xl" style="left:1712.8px">Mar</div>
<div class="abs yl" style="top:322px">600.00%</div>
<div class="abs yl" style="top:367px">400.00%</div>
<div class="abs yl" style="top:413px">200.00%</div>
<div class="abs yl" style="top:458px">0.00%</div>
<div class="abs tag" style="top:417px;background:#089981">173.13%</div>
<div class="abs tag" style="top:478px;background:#5b9cf6">−94.10%</div>
<svg class="abs" style="left:1579px;top:13px" width="20" height="20" viewBox="0 0 20 20" fill="none" stroke="#dbdbdb" stroke-width="1.2"><rect x="1.6" y="3.6" width="16.8" height="14.8" rx="2"/><path d="M1.6 7.5H18.4M5.500 0.900V5M14.400 0.900V5"/></svg>
<div class="abs" style="left:1609px;top:16px;font-size:14px;line-height:17px;color:#dbdbdb">Jan 1, 2024 — Mar 14, 2026</div>
<svg class="abs" style="left:1790px;top:20px" width="10" height="8" viewBox="0 0 10 8"><path d="M1.2 5.8 L5 2.2 L8.8 5.8" fill="none" stroke="#cfcfcf" stroke-width="1.3"/></svg>
<div class="abs dd">
  <div class="abs sel">Range from chart</div>
  <div class="abs sep" style="top:44px"></div>
  <div class="abs cap">OTHER RANGES</div>
  <div class="abs it" style="top:83px">Last 7 days</div>
  <div class="abs it" style="top:115px">Last 30 days</div>
  <div class="abs it" style="top:147px">Last 90 days</div>
  <div class="abs it" style="top:179px">Last 365 days</div>
  <div class="abs it" style="top:211px">Entire history</div>
  <div class="abs sep" style="top:241px"></div>
  <svg class="abs" style="left:14px;top:253px" width="20" height="20" viewBox="0 0 20 20" fill="none" stroke="#dbdbdb" stroke-width="1.2"><rect x="1.6" y="3.6" width="16.8" height="14.8" rx="2"/><path d="M1.6 7.5H18.4M5.500 0.900V5M14.400 0.900V5"/></svg>
  <div class="abs it" style="left:42px;top:256px">Custom date range…</div>
</div>

<div class="abs panel"></div>
<svg class="abs" style="left:36px;top:578px" width="12" height="9" viewBox="0 0 12 9"><path d="M1.2 2 L6 6.600 L10.800 2" fill="none" stroke="#dbdbdb" stroke-width="1.600"/></svg>
<div class="abs" style="left:59px;top:571px;font-size:18px;font-weight:700;line-height:22px;color:#e6e6e6">Performance</div>
<div class="abs h14" style="left:33px;top:621px">Profit structure</div>
<div class="abs h14" style="left:924px;top:621px">Benchmarking</div>
<svg class="abs" style="left:0;top:650px" width="1815" height="215" viewBox="0 650 1815 215" font-family="Liberation Sans, sans-serif">
<line x1="33" x2="842" y1="657.5" y2="657.5" stroke="#2e2e2e"/>
<line x1="33" x2="842" y1="699.5" y2="699.5" stroke="#2e2e2e"/>
<line x1="33" x2="842" y1="741.5" y2="741.5" stroke="#2e2e2e"/>
<line x1="33" x2="842" y1="782.5" y2="782.5" stroke="#2e2e2e"/>
<line x1="33" x2="842" y1="824.5" y2="824.5" stroke="#8a8a8a"/>
<rect x="104" y="667" width="60" height="157" fill="#089981"/>
<rect x="306" y="667" width="60" height="142" fill="#f23645"/>
<rect x="509" y="808" width="60" height="11" fill="#ff9800"/>
<rect x="711" y="818" width="60" height="6" fill="#3179f5"/>
<line x1="164" x2="306" y1="667.5" y2="667.5" stroke="#9c9c9c" stroke-dasharray="3 2"/>
<line x1="366" x2="509" y1="808.5" y2="808.5" stroke="#9c9c9c" stroke-dasharray="3 2"/>
<line x1="569" x2="711" y1="818.5" y2="818.5" stroke="#9c9c9c" stroke-dasharray="3 2"/>
<text x="891" y="662" text-anchor="end" font-size="11" fill="#d1d1d1">6.00 K</text>
<text x="891" y="703" text-anchor="end" font-size="11" fill="#d1d1d1">4.50 K</text>
<text x="891" y="743" text-anchor="end" font-size="11" fill="#d1d1d1">3.00 K</text>
<text x="891" y="784" text-anchor="end" font-size="11" fill="#d1d1d1">1.50 K</text>
<text x="891" y="824" text-anchor="end" font-size="11" fill="#d1d1d1">0.00</text>
<line x1="924" x2="1710" y1="681.5" y2="681.5" stroke="#2e2e2e"/>
<line x1="924" x2="1710" y1="714.5" y2="714.5" stroke="#2e2e2e"/>
<line x1="924" x2="1710" y1="748.5" y2="748.5" stroke="#2e2e2e"/>
<line x1="924" x2="1710" y1="815.5" y2="815.5" stroke="#2e2e2e"/>
<line x1="924" x2="1710" y1="781.5" y2="781.5" stroke="#8a8a8a"/>
<path d="M1249 779 L1317 781 L1249 789.300 Z" fill="#ff9800" fill-opacity="0.18"/>
<path d="M992.500 778.700 H1130 V789.300 H992.500 a2.500 2.500 0 0 1 -2.500 -2.500 V781.200 a2.500 2.500 0 0 1 2.500 -2.500Z" fill="#b06b08"/>
<path d="M990 781.800 H1130 V789.100 H992.500 a2.500 2.500 0 0 1 -2.500 -2.500Z" fill="#ff9800"/>
<line x1="1249" y1="779.300" x2="1317" y2="781" stroke="#ff9800" stroke-width="2" stroke-dasharray="3 2"/>
<line x1="1249" y1="789.300" x2="1317" y2="781" stroke="#ff9800" stroke-width="1" stroke-dasharray="2 2"/>
<path d="M1317 781 L1383 692 V783 Z" fill="#3179f5" fill-opacity="0.16"/>
<path d="M1383 692 H1639 a3 3 0 0 1 3 3 V780 a3 3 0 0 1 -3 3 H1383Z" fill="#3179f5" fill-opacity="0.49"/>
<path d="M1383 767 H1642 V780 a2 2 0 0 1 -2 1.500 H1383Z" fill="#3179f5"/>
<line x1="1317" y1="781" x2="1383" y2="692" stroke="#2c69cf" stroke-width="1" stroke-dasharray="3 2"/>
<line x1="1317" y1="781" x2="1383" y2="767" stroke="#2c69cf" stroke-width="1.500" stroke-dasharray="3 3"/>
<line x1="1338" y1="782.600" x2="1383" y2="782.600" stroke="#2a5db5" stroke-width="1" stroke-dasharray="3 2"/>
<circle cx="1317" cy="781" r="3.200" fill="#8c8c8c"/>
<rect x="1129.3" y="762.1" width="54.600000000000136" height="17.4" rx="1.500" fill="#e27f1b"/>
<rect x="1184.9" y="762.1" width="64.39999999999986" height="17.4" rx="1.500" fill="#e27f1b"/>
<rect x="1129.3" y="780.1" width="54.600000000000136" height="17.4" rx="1.500" fill="#c8741a"/>
<rect x="1184.9" y="780.1" width="64.39999999999986" height="17.4" rx="1.500" fill="#c8741a"/>
<rect x="1129.3" y="798.2" width="54.600000000000136" height="17.4" rx="1.500" fill="#e27f1b"/>
<rect x="1184.9" y="798.2" width="64.39999999999986" height="17.4" rx="1.500" fill="#e27f1b"/>
<rect x="1382.6" y="683.3" width="55.100000000000136" height="17.4" rx="1.500" fill="#3179f5"/>
<rect x="1438.7" y="683.3" width="63.899999999999864" height="17.4" rx="1.500" fill="#3179f5"/>
<rect x="1382.6" y="758.3" width="55.100000000000136" height="17.4" rx="1.500" fill="#2254e0"/>
<rect x="1438.7" y="758.3" width="63.899999999999864" height="17.4" rx="1.500" fill="#2254e0"/>
<rect x="1382.6" y="776.4" width="55.100000000000136" height="17.4" rx="1.500" fill="#3179f5"/>
<rect x="1438.7" y="776.4" width="63.899999999999864" height="17.4" rx="1.500" fill="#3179f5"/>
</svg>
<svg class="abs" style="left:0;top:650px;will-change:transform" width="1815" height="215" viewBox="0 650 1815 215" font-family="Liberation Sans, sans-serif">
<text x="1720" y="685" font-size="11" fill="#d1d1d1">1.20<tspan dx="2.300">K%</tspan></text>
<text x="1720" y="718" font-size="11" fill="#d1d1d1">800.00%</text>
<text x="1720" y="752" font-size="11" fill="#d1d1d1">400.00%</text>
<text x="1720" y="785" font-size="11" fill="#d1d1d1">0.00%</text>
<text x="1720" y="819" font-size="11" fill="#d1d1d1">−400.00%</text>
<text x="1135.3" y="775.4" font-size="13" fill="#fff">Max</text>
<text x="1243.3" y="775.4" font-size="13" fill="#fff" text-anchor="end">26.63%</text>
<text x="1135.3" y="793.4" font-size="13" fill="#fff">Current</text>
<text x="1243.3" y="793.4" font-size="13" fill="#fff" text-anchor="end">−94.10%</text>
<text x="1135.3" y="810.9000000000001" font-size="13" fill="#fff">Min</text>
<text x="1243.3" y="810.9000000000001" font-size="13" fill="#fff" text-anchor="end">−94.74%</text>
<text x="1388.6" y="696.0" font-size="13" fill="#fff">Max</text>
<text x="1496.6" y="696.0" font-size="13" fill="#fff" text-anchor="end">1.06<tspan dx="2.600">K%</tspan></text>
<text x="1388.6" y="771.0" font-size="13" fill="#fff">Current</text>
<text x="1496.6" y="771.0" font-size="13" fill="#fff" text-anchor="end">173.13%</text>
<text x="1388.6" y="789.1" font-size="13" fill="#fff">Min</text>
<text x="1496.6" y="789.1" font-size="13" fill="#fff" text-anchor="end">−20.38%</text>
</svg>
<div class="dot" style="left:285.5px;top:845.5px;background:#089981"></div>
<div class="abs lg" style="left:301.5px;top:841px">Total profit</div>
<div class="dot" style="left:377.5px;top:845.5px;background:#f23645"></div>
<div class="abs lg" style="left:393.5px;top:841px">Total loss</div>
<div class="dot" style="left:463.5px;top:845.5px;background:#ff9800"></div>
<div class="abs lg" style="left:480px;top:841px">Commission</div>
<div class="dot" style="left:566.5px;top:845.5px;background:#3179f5"></div>
<div class="abs lg" style="left:583.5px;top:841px">Total P&amp;L</div>
<div class="dot" style="left:1227.5px;top:845.5px;background:#ff9800"></div>
<div class="abs lg" style="left:1244.5px;top:841px">P&amp;L for buy &amp; hold</div>
<div class="dot" style="left:1368px;top:845.5px;background:#3179f5"></div>
<div class="abs lg" style="left:1384.5px;top:841px">P&amp;L for strategy</div>
<div class="abs ret"></div>
<div class="abs h14" style="left:33px;top:886px">Returns</div>
<div class="abs th" style="left:33px">Metric</div>
<div class="abs th" style="right:1097.4px">All</div>
<div class="abs th" style="right:741.4000000000001px">Long</div>
<div class="abs th" style="right:385.4000000000001px">Short</div>
<div class="abs hr" style="top:955px;background:#4a4a4a"></div>
<div class="abs td" style="left:33px;top:976px">Initial capital</div>
<div class="abs td" style="right:1097.4px;top:974px">100.00<span class="usd">USD</span></div>
<div class="abs hr" style="top:1012px;background:#2e2e2e"></div>
<div class="abs td" style="left:33px;top:1033px">Open P&amp;L</div>
<div class="abs td" style="right:1097.4px;top:1022px">0<span class="usd">USD</span></div>
</body>
</html>
